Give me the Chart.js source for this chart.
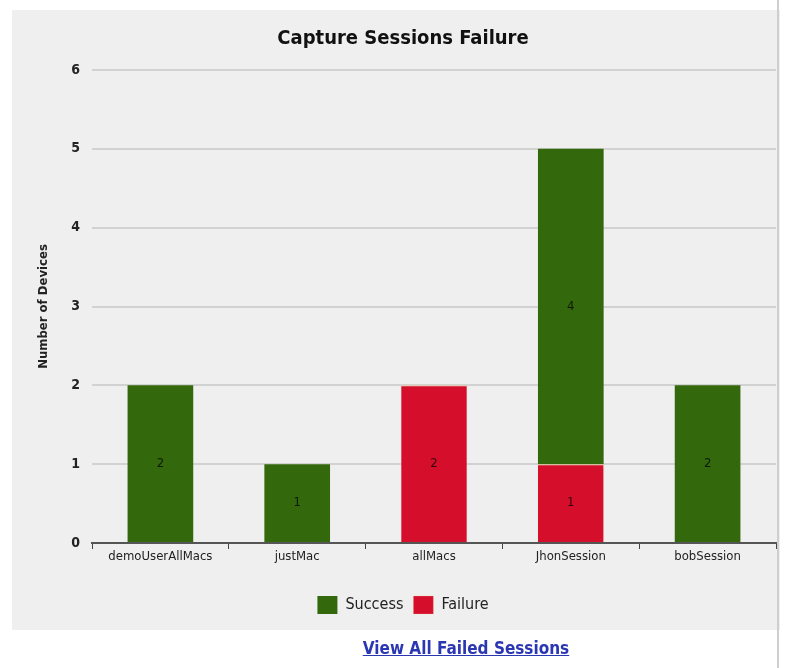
<!DOCTYPE html>
<html>
<head>
<meta charset="utf-8">
<script src="https://cdn.jsdelivr.net/npm/chart.js@4/dist/chart.umd.min.js"></script>
<style>
  html, body { margin: 0; padding: 0; background: #ffffff; }
  body { width: 788px; height: 668px; position: relative; overflow: hidden; }
  #panel { position: absolute; left: 12px; top: 10px; width: 768px; height: 620px; background: #efefef; }
  #rule { position: absolute; left: 777px; top: 0; width: 2px; height: 668px; background: #cfcfcf; }
  #link { position: absolute; left: 0; width: 932px; top: 638px; text-align: center;
          font-family: "Liberation Sans Narrow", "DejaVu Sans Condensed", sans-serif; font-weight: bold;
          font-size: 17px; color: #2b36b3; text-decoration: underline; }
</style>
</head>
<body>
<div id="panel"><canvas id="c" width="768" height="620"></canvas></div>
<div id="rule"></div>
<div id="link">View All Failed Sessions</div>
<script>
const sessions = ["demoUserAllMacs", "justMac", "allMacs", "JhonSession", "bobSession"];
const successCounts = [2, 1, 0, 4, 2];
const failureCounts = [0, 0, 2, 1, 0];
const yTicks = [0, 1, 2, 3, 4, 5, 6];

const GREEN = "#33680d";
const RED = "#d50f2b";
const FONT = '"Liberation Sans Narrow", "DejaVu Sans Condensed", sans-serif';

// Writes each segment's count in the middle of its bar
const segmentLabels = {
  id: "segmentLabels",
  afterDatasetsDraw(chart) {
    const ctx = chart.ctx;
    ctx.save();
    ctx.font = "13px " + FONT;
    ctx.fillStyle = "rgba(0,0,0,0.75)";
    ctx.textAlign = "center";
    ctx.textBaseline = "middle";
    chart.data.datasets.forEach((ds, i) => {
      const meta = chart.getDatasetMeta(i);
      meta.data.forEach((bar, j) => {
        const v = ds.data[j];
        if (!v) return;
        ctx.fillText(String(v), bar.x, (bar.y + bar.base) / 2);
      });
    });
    ctx.restore();
  }
};

new Chart(document.getElementById("c"), {
  type: "bar",
  data: {
    labels: sessions,
    datasets: [
      { label: "Failure", data: failureCounts, backgroundColor: RED,
        borderColor: "#f3c79a", borderWidth: { top: 1 }, borderSkipped: false },
      { label: "Success", data: successCounts, backgroundColor: GREEN }
    ]
  },
  options: {
    responsive: false,
    animation: false,
    barPercentage: 0.8,
    categoryPercentage: 0.6,
    layout: { padding: { top: 6, right: 4, bottom: 6, left: 18 } },
    plugins: {
      title: {
        display: true,
        text: "Capture Sessions Failure",
        color: "#111",
        font: { family: FONT, size: 20, weight: "bold" },
        padding: { top: 11, bottom: 19 }
      },
      legend: {
        position: "bottom",
        reverse: true,
        labels: {
          color: "#222",
          font: { family: FONT, size: 16 },
          boxWidth: 20, boxHeight: 18, padding: 10
        }
      },
      tooltip: { enabled: false }
    },
    scales: {
      x: {
        stacked: true,
        offset: true,
        grid: { display: true, drawOnChartArea: false, drawTicks: true, tickLength: 6, color: "#444", offset: true },
        border: { display: true, color: "#555", width: 2 },
        ticks: { color: "#222", font: { family: FONT, size: 13 }, padding: 0, maxRotation: 0 },
        afterFit(s) { s.height = 43; }
      },
      y: {
        stacked: true,
        min: 0, max: 6,
        afterBuildTicks(s) { s.ticks = yTicks.map(v => ({ value: v })); },
        grid: { color: "#d2d2d2", lineWidth: 2, drawTicks: false },
        border: { display: false },
        ticks: { color: "#222", font: { family: FONT, size: 14, weight: "bold" }, padding: 12 },
        title: { display: true, text: "Number of Devices", color: "#222",
                 font: { family: FONT, size: 13, weight: "bold" }, padding: 6 },
        afterFit(s) { s.width = 62; }
      }
    }
  },
  plugins: [segmentLabels]
});
</script>
</body>
</html>
